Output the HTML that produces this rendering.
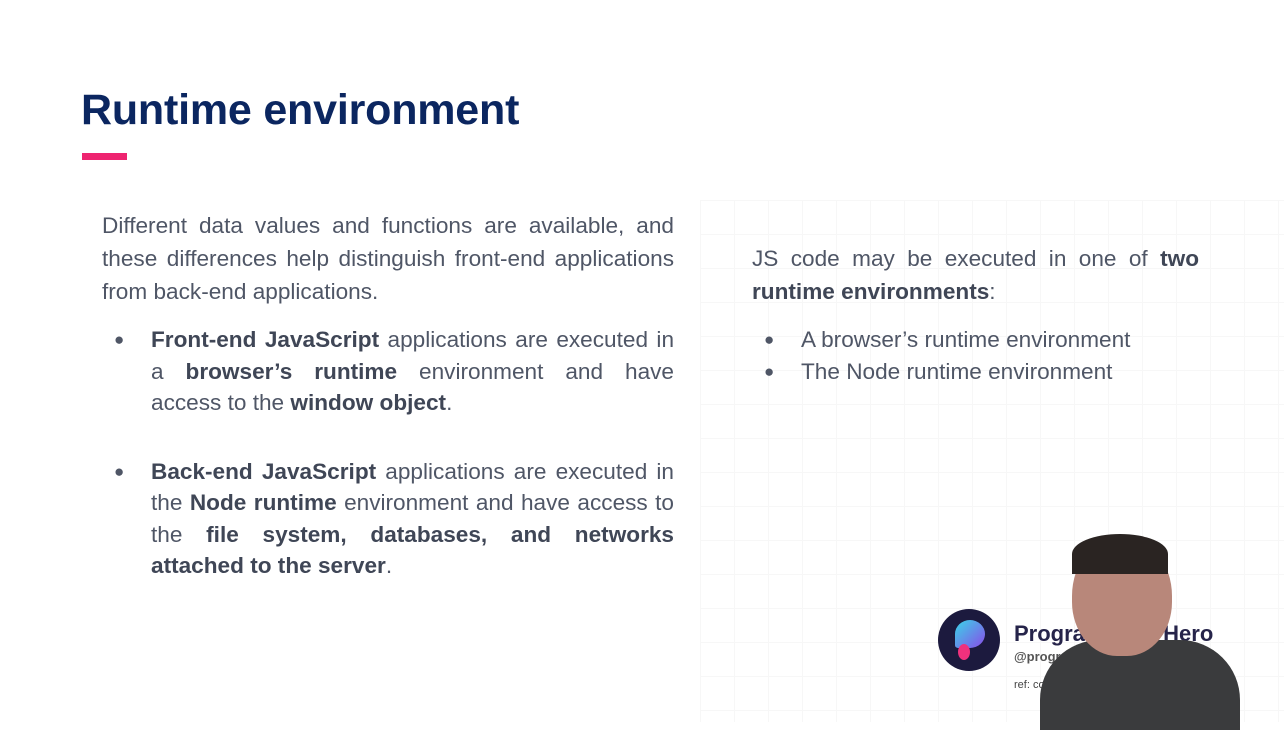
<!DOCTYPE html>
<html><head><style>
body{margin:0;width:1284px;height:722px;overflow:hidden;background:#fff;font-family:"Liberation Sans",sans-serif;position:relative}
.grid{position:absolute;left:700px;top:200px;width:584px;height:522px;background-image:linear-gradient(#f4f4f4 1px,transparent 1px),linear-gradient(90deg,#f4f4f4 1px,transparent 1px);background-size:34px 34px;opacity:.7}
h1{position:absolute;left:81px;top:86px;margin:0;font-size:43px;color:#0b2660;font-weight:bold;letter-spacing:-0.2px}
.bar{position:absolute;left:82px;top:153px;width:45px;height:7px;background:#ee2470}
.t{position:absolute;color:#4f5666;font-size:22.6px;text-align:justify}
.t b{color:#3f4656}
p{margin:0}
.li{position:relative;padding-left:49px}
.li:before{content:"●";position:absolute;left:12px;font-size:17px}
.j{display:block;text-align-last:justify;white-space:nowrap}
</style></head><body>
<div class="grid"></div>
<h1>Runtime environment</h1>
<div class="bar"></div>
<div class="t" style="left:102px;top:209px;width:572px;line-height:33px">Different data values and functions are available, and these differences help distinguish front-end applications from back-end applications.</div>
<div class="t" style="left:102px;top:324px;width:572px;line-height:31.5px">
<p class="li"><span class="j"><b>Front-end JavaScript</b> applications are executed in</span><span class="j">a <b>browser’s runtime</b> environment and have</span>access to the <b>window object</b>.</p>
<p class="li" style="margin-top:37px"><b>Back-end JavaScript</b> applications are executed in the <b>Node runtime</b> environment and have access to the <b>file system, databases, and networks attached to the server</b>.</p>
</div>
<div class="t" style="left:752px;top:242px;width:447px;line-height:33px">JS code may be executed in one of <b>two runtime environments</b>:</div>
<div class="t" style="left:752px;top:324px;width:447px;line-height:31.5px;text-align:left">
<p class="li">A browser’s runtime environment</p>
<p class="li">The Node runtime environment</p>
</div>
<div style="position:absolute;left:938px;top:609px;width:62px;height:62px;border-radius:50%;background:#1c1a3e"></div>
<div style="position:absolute;left:955px;top:620px;width:30px;height:28px;border-radius:50% 50% 50% 10%;background:linear-gradient(135deg,#38d6e8,#8a4be8)"></div>
<div style="position:absolute;left:958px;top:644px;width:12px;height:16px;border-radius:50%;background:#f0317d"></div>
<div style="position:absolute;left:1014px;top:621px;font-size:22px;font-weight:bold;color:#26244a">Program<span style="color:transparent">ming</span> Hero</div>
<div style="position:absolute;left:1014px;top:649px;font-size:13px;font-weight:bold;color:#555">@programmi</div>
<div style="position:absolute;left:1014px;top:679px;font-size:11px;color:#444">ref: cod</div>
<div style="position:absolute;left:1040px;top:640px;width:200px;height:90px;border-radius:60px 60px 0 0;background:#3a3b3d"></div>
<div style="position:absolute;left:1072px;top:536px;width:100px;height:120px;border-radius:50% 50% 45% 45%;background:#b8877a"></div>
<div style="position:absolute;left:1072px;top:534px;width:96px;height:40px;border-radius:50% 50% 0 0;background:#2a2422"></div>
</body></html>
